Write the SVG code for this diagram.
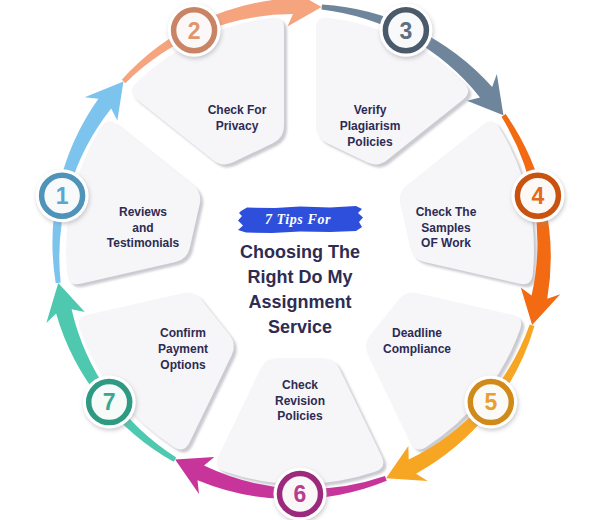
<svg xmlns="http://www.w3.org/2000/svg" xmlns:xlink="http://www.w3.org/1999/xlink" width="600" height="520" viewBox="0 0 600 520">
<style>
.lbl{font-family:"Liberation Sans",Arial,sans-serif;font-weight:700;font-size:12px;fill:#2d2b53;text-anchor:middle}
.title{font-family:"Liberation Sans",Arial,sans-serif;font-weight:700;font-size:18px;fill:#2e2c52;text-anchor:middle}
.tips{font-family:"Liberation Serif","DejaVu Serif",serif;font-weight:700;font-style:italic;font-size:14px;fill:#ffffff;text-anchor:middle;letter-spacing:0.6px}
.num{font-family:"Liberation Sans",Arial,sans-serif;font-weight:700;font-size:23px;text-anchor:middle}
.card{fill:#f6f6f8}
.disc{fill:#ffffff}
</style>
<defs>
<filter id="cardShadow" x="-20%" y="-20%" width="140%" height="140%">
<feDropShadow dx="3" dy="3" stdDeviation="1.3" flood-color="#c4c4cc" flood-opacity="0.9"/>
</filter>
<filter id="discShadow" x="-40%" y="-40%" width="180%" height="180%">
<feDropShadow dx="1" dy="2" stdDeviation="2" flood-color="#8a8a95" flood-opacity="0.45"/>
</filter>
<path id="card" d="M118.8,-39.5 L206.5,-81.7 Q217.3,-86.9 221.4,-75.6 A234,234 0 0 1 221.4,75.6 Q217.3,86.9 206.5,81.7 L118.8,39.5 Q108,34.3 108,22.3 L108,-22.3 Q108,-34.3 118.8,-39.5 Z"/>
<path id="arrow" d="M230.75,-86.72 A249,249 0 0 1 230.2,102.5 L243.9,101.0 L209.6,124.9 L206.9,85.7 L215.6,96.0 A239,239 0 0 0 226.08,-84.96 Z"/>
</defs>
<rect width="600" height="520" fill="#ffffff"/>

<g id="cards">
<g id="card1" filter="url(#cardShadow)"><use xlink:href="#card" href="#card" class="card" transform="translate(300,250) rotate(192.86)"/></g>
<g id="card2" filter="url(#cardShadow)"><use xlink:href="#card" href="#card" class="card" transform="translate(300,250) rotate(244.29)"/></g>
<g id="card3" filter="url(#cardShadow)"><use xlink:href="#card" href="#card" class="card" transform="translate(300,250) rotate(295.71)"/></g>
<g id="card4" filter="url(#cardShadow)"><use xlink:href="#card" href="#card" class="card" transform="translate(300,250) rotate(347.14)"/></g>
<g id="card5" filter="url(#cardShadow)"><use xlink:href="#card" href="#card" class="card" transform="translate(300,250) rotate(38.57)"/></g>
<g id="card6" filter="url(#cardShadow)"><use xlink:href="#card" href="#card" class="card" transform="translate(300,250) rotate(90)"/></g>
<g id="card7" filter="url(#cardShadow)"><use xlink:href="#card" href="#card" class="card" transform="translate(300,250) rotate(141.43)"/></g>
</g>

<g id="labels">
<text class="lbl" x="143" y="216">Reviews</text>
<text class="lbl" x="143" y="232">and</text>
<text class="lbl" x="143" y="247">Testimonials</text>
<text class="lbl" x="237" y="114">Check For</text>
<text class="lbl" x="237" y="130">Privacy</text>
<text class="lbl" x="370" y="114">Verify</text>
<text class="lbl" x="370" y="130">Plagiarism</text>
<text class="lbl" x="370" y="146">Policies</text>
<text class="lbl" x="446" y="216">Check The</text>
<text class="lbl" x="446" y="232">Samples</text>
<text class="lbl" x="446" y="247">OF Work</text>
<text class="lbl" x="417" y="337">Deadline</text>
<text class="lbl" x="417" y="353">Compliance</text>
<text class="lbl" x="300" y="389">Check</text>
<text class="lbl" x="300" y="404.5">Revision</text>
<text class="lbl" x="300" y="420">Policies</text>
<text class="lbl" x="183" y="337">Confirm</text>
<text class="lbl" x="183" y="353">Payment</text>
<text class="lbl" x="183" y="369">Options</text>
</g>

<g id="center">
<path d="M241,211 L247,207.5 L275,208 L300,206.5 L330,207.5 L356,206 L362,209 L358,213 L363,217.5 L359,222 L362,227 L356,231 L330,232 L300,231.5 L272,233 L246,232.5 L238,230 L243,225.5 L238,220.5 L242,216 L239,213 Z" fill="#2d4fdc"/>
<text class="tips" x="298" y="224">7 Tips For</text>
<text class="title" x="300" y="258">Choosing The</text>
<text class="title" x="300" y="283">Right Do My</text>
<text class="title" x="300" y="308">Assignment</text>
<text class="title" x="300" y="333">Service</text>
</g>

<g id="connectors">
<use xlink:href="#arrow" href="#arrow" fill="#7cc4ee" transform="translate(300,250) rotate(192.86)"/>
<use xlink:href="#arrow" href="#arrow" fill="#f5a47e" transform="translate(300,250) rotate(244.29)"/>
<use xlink:href="#arrow" href="#arrow" fill="#6e859b" transform="translate(300,250) rotate(295.71)"/>
<use xlink:href="#arrow" href="#arrow" fill="#f26a12" transform="translate(300,250) rotate(347.14)"/>
<use xlink:href="#arrow" href="#arrow" fill="#f6a623" transform="translate(300,250) rotate(38.57)"/>
<use xlink:href="#arrow" href="#arrow" fill="#c7359a" transform="translate(300,250) rotate(90)"/>
<use xlink:href="#arrow" href="#arrow" fill="#4ec9b0" transform="translate(300,250) rotate(141.43)"/>
</g>

<g id="step1">
<circle class="disc" cx="62.1" cy="195.7" r="26.5" filter="url(#discShadow)"/>
<circle cx="62.1" cy="195.7" r="20.5" fill="#f7f9fb" stroke="#4f93b8" stroke-width="5.5"/>
<text class="num" x="62.1" y="204" fill="#5aa6d0">1</text>
</g>
<g id="step2">
<circle class="disc" cx="194.1" cy="30.2" r="26.5" filter="url(#discShadow)"/>
<circle cx="194.1" cy="30.2" r="20.5" fill="#fbf8f7" stroke="#c98466" stroke-width="5.5"/>
<text class="num" x="194.1" y="38.5" fill="#e0956f">2</text>
</g>
<g id="step3">
<circle class="disc" cx="405.9" cy="30.2" r="26.5" filter="url(#discShadow)"/>
<circle cx="405.9" cy="30.2" r="20.5" fill="#f8f9fa" stroke="#4a5a6b" stroke-width="5.5"/>
<text class="num" x="405.9" y="38.5" fill="#5d6f82">3</text>
</g>
<g id="step4">
<circle class="disc" cx="537.9" cy="195.7" r="26.5" filter="url(#discShadow)"/>
<circle cx="537.9" cy="195.7" r="20.5" fill="#fbf8f6" stroke="#c9520f" stroke-width="5.5"/>
<text class="num" x="537.9" y="204" fill="#e06a20">4</text>
</g>
<g id="step5">
<circle class="disc" cx="490.8" cy="402.1" r="26.5" filter="url(#discShadow)"/>
<circle cx="490.8" cy="402.1" r="20.5" fill="#fbfaf6" stroke="#d08a1a" stroke-width="5.5"/>
<text class="num" x="490.8" y="410.4" fill="#e5a030">5</text>
</g>
<g id="step6">
<circle class="disc" cx="300" cy="494" r="26.5" filter="url(#discShadow)"/>
<circle cx="300" cy="494" r="20.5" fill="#faf7f9" stroke="#9c2a7c" stroke-width="5.5"/>
<text class="num" x="300" y="502.3" fill="#b83c8f">6</text>
</g>
<g id="step7">
<circle class="disc" cx="109.2" cy="402.1" r="26.5" filter="url(#discShadow)"/>
<circle cx="109.2" cy="402.1" r="20.5" fill="#f6faf9" stroke="#2e9a82" stroke-width="5.5"/>
<text class="num" x="109.2" y="410.4" fill="#37a88f">7</text>
</g>
</svg>
